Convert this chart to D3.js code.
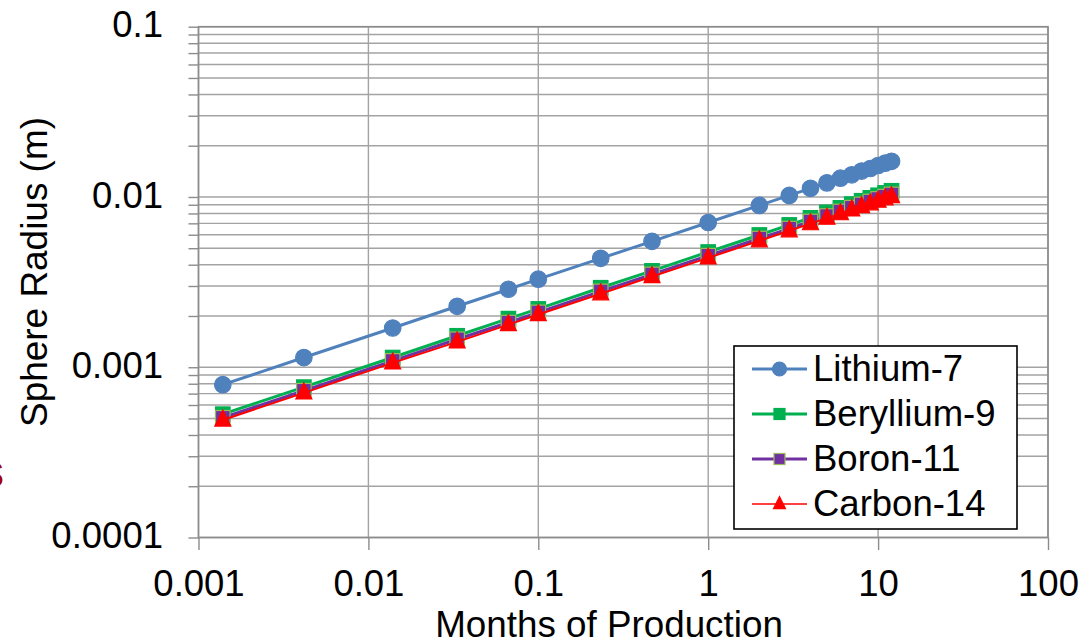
<!DOCTYPE html>
<html>
<head>
<meta charset="utf-8">
<script src="https://cdn.jsdelivr.net/npm/d3@7"></script>
<style>
  html, body { margin: 0; padding: 0; background: #fff; }
  svg { display: block; }
  text { font-family: "Liberation Sans", Arial, sans-serif; fill: #000; }
</style>
</head>
<body>
<svg id="chart" width="1085" height="644"></svg>
<script>
// Production time in months: 1 h, 3 h, 10 h, 1 d, 2 d, 3 d, 1 wk, 2 wk, then 1..12 months
const months = [0.00139, 0.00417, 0.0139, 0.0333, 0.0667, 0.1, 0.233, 0.467,
                1, 2, 3, 4, 5, 6, 7, 8, 9, 10, 11, 12];

// Sphere radius (m) for each isotope
const lithium7 = [0.00079, 0.00114, 0.0017, 0.00228, 0.00287, 0.00329, 0.00436, 0.00549,
                  0.00708, 0.00892, 0.01021, 0.01124, 0.0121, 0.0129, 0.0135, 0.0142,
                  0.0147, 0.0153, 0.0158, 0.0162];
const beryllium9 = [0.00053, 0.000764, 0.00114, 0.00153, 0.00193, 0.0022, 0.00293, 0.00368,
                    0.00475, 0.00598, 0.00685, 0.00754, 0.00812, 0.00863, 0.00908, 0.0095,
                    0.00988, 0.01023, 0.01056, 0.01087];
const boron11 = [0.000505, 0.000728, 0.00109, 0.00146, 0.00183, 0.0021, 0.00279, 0.00351,
                 0.00452, 0.0057, 0.00652, 0.00718, 0.00773, 0.00822, 0.00865, 0.00904,
                 0.0094, 0.00974, 0.01005, 0.01035];
const carbon14 = [0.00049, 0.000707, 0.00106, 0.00141, 0.00178, 0.00204, 0.0027, 0.00341,
                  0.00439, 0.00553, 0.00633, 0.00697, 0.00751, 0.00798, 0.0084, 0.00878,
                  0.00913, 0.00946, 0.00976, 0.01005];

const seriesNames = ["Lithium-7", "Beryllium-9", "Boron-11", "Carbon-14"];
const xTickLabels = ["0.001", "0.01", "0.1", "1", "10", "100"];
const yTickLabels = ["0.0001", "0.001", "0.01", "0.1"];

const series = [
  { name: seriesNames[0], values: lithium7,   line: "#4f81bd", fill: "#4f81bd", stroke: "#4f81bd", shape: "circle",   width: 3 },
  { name: seriesNames[1], values: beryllium9, line: "#00b050", fill: "#00b050", stroke: "#00b050", shape: "square",   width: 3 },
  { name: seriesNames[2], values: boron11,    line: "#7030a0", fill: "#7030a0", stroke: "#9bbb59", shape: "square",   width: 3 },
  { name: seriesNames[3], values: carbon14,   line: "#ff0000", fill: "#ff0000", stroke: "#ff0000", shape: "triangle", width: 2 }
];

const svg = d3.select("#chart");
const plotLeft = 198.5, plotRight = 1048, plotTop = 26.7, plotBottom = 537.5;

const x = d3.scaleLog().domain([0.001, 100]).range([plotLeft, plotRight]);
const y = d3.scaleLog().domain([0.0001, 0.1]).range([plotBottom, plotTop]);

const gridColor = "#a3a3a3";

// Horizontal gridlines at every 1..9 step of each decade
const yGrid = y.ticks();
svg.append("g").selectAll("line").data(yGrid).join("line")
  .attr("x1", plotLeft).attr("x2", plotRight)
  .attr("y1", d => y(d)).attr("y2", d => y(d))
  .attr("stroke", gridColor).attr("stroke-width", 1.4);

// Vertical gridlines at each decade
const xDecades = xTickLabels.map(Number);
svg.append("g").selectAll("line").data(xDecades).join("line")
  .attr("x1", d => x(d)).attr("x2", d => x(d))
  .attr("y1", plotTop).attr("y2", plotBottom)
  .attr("stroke", gridColor).attr("stroke-width", 1.4);

// Plot border
svg.append("rect")
  .attr("x", plotLeft).attr("y", plotTop)
  .attr("width", plotRight - plotLeft).attr("height", plotBottom - plotTop)
  .attr("fill", "none").attr("stroke", "#8c8c8c").attr("stroke-width", 1.6);

// Y axis: ticks at every gridline, labels on decades
const yDecades = yTickLabels.map(Number);
const yAxis = d3.axisLeft(y)
  .tickValues(yGrid)
  .tickSize(10).tickSizeOuter(0).tickPadding(25.5)
  .tickFormat(d => {
    const i = yDecades.findIndex(v => Math.abs(v - d) / v < 1e-6);
    return i >= 0 ? yTickLabels[i] : "";
  });
const gy = svg.append("g").attr("transform", `translate(${plotLeft},0)`).call(yAxis);
gy.select(".domain").remove();
gy.selectAll(".tick line").attr("stroke", "#8c8c8c").attr("stroke-width", 1.4);
gy.selectAll(".tick text").attr("dy", "0.28em")
  .style("font-size", "36.5px").style("font-family", "'Liberation Sans', Arial, sans-serif").attr("fill", "#000");

// X axis: decade ticks and labels
const xAxis = d3.axisBottom(x)
  .tickValues(xDecades)
  .tickSize(12.5).tickSizeOuter(0).tickPadding(20)
  .tickFormat((d, i) => xTickLabels[i]);
const gx = svg.append("g").attr("transform", `translate(0,${plotBottom})`).call(xAxis);
gx.select(".domain").remove();
gx.selectAll(".tick line").attr("stroke", "#8c8c8c").attr("stroke-width", 1.4);
gx.selectAll(".tick text")
  .style("font-size", "36.5px").style("font-family", "'Liberation Sans', Arial, sans-serif").attr("fill", "#000");

// Axis titles
svg.append("text")
  .attr("x", 609).attr("y", 637)
  .attr("text-anchor", "middle")
  .style("font-size", "36.8px")
  .text("Months of Production");

svg.append("text")
  .attr("transform", "translate(47,272) rotate(-90)")
  .attr("text-anchor", "middle")
  .style("font-size", "37px")
  .attr("textLength", 310)
  .attr("lengthAdjust", "spacingAndGlyphs")
  .text("Sphere Radius (m)");

// Edge of a neighbouring caption
svg.append("text")
  .attr("x", 4).attr("y", 487)
  .attr("text-anchor", "end")
  .style("font-size", "46px")
  .style("fill", "#a00000")
  .text("s");

// Marker shapes
function drawMarker(g, shape, size) {
  if (shape === "circle") {
    return g.append("circle").attr("r", size / 2);
  }
  if (shape === "square") {
    return g.append("rect").attr("x", -size / 2).attr("y", -size / 2)
      .attr("width", size).attr("height", size);
  }
  const h = size * 1.0;
  return g.append("path")
    .attr("d", `M0,${-h * 0.62} L${size / 2},${h * 0.38} L${-size / 2},${h * 0.38} Z`);
}

const line = d3.line().x(d => x(d[0])).y(d => y(d[1]));

const plot = svg.append("g");
series.forEach(s => {
  const pts = months.map((m, i) => [m, s.values[i]]);
  const g = plot.append("g");
  g.append("path").datum(pts)
    .attr("d", line)
    .attr("fill", "none")
    .attr("stroke", s.line)
    .attr("stroke-width", s.width)
    .attr("stroke-linejoin", "round");
  const size = s.shape === "circle" ? 16.5 : (s.shape === "square" ? 14.5 : 16);
  pts.forEach(p => {
    const mg = g.append("g").attr("transform", `translate(${x(p[0])},${y(p[1])})`);
    drawMarker(mg, s.shape, size)
      .attr("fill", s.fill)
      .attr("stroke", s.stroke)
      .attr("stroke-width", 1.2);
  });
});

// Legend
const lg = svg.append("g");
lg.append("rect")
  .attr("x", 734).attr("y", 346)
  .attr("width", 283).attr("height", 183)
  .attr("fill", "#fff").attr("stroke", "#000").attr("stroke-width", 1.6);

const rowY = d3.scalePoint().domain(seriesNames).range([369, 504]);
series.forEach(s => {
  const yy = rowY(s.name);
  const row = lg.append("g").attr("transform", `translate(0,${yy})`);
  row.append("line")
    .attr("x1", 752).attr("x2", 807)
    .attr("stroke", s.line).attr("stroke-width", s.width === 3 ? 3 : 1.6);
  const mg = row.append("g").attr("transform", "translate(779.5,0)");
  const size = s.shape === "circle" ? 14 : (s.shape === "square" ? 11 : 12);
  drawMarker(mg, s.shape, size)
    .attr("fill", s.fill).attr("stroke", s.stroke).attr("stroke-width", 1.2);
  row.append("text")
    .attr("x", 813).attr("y", 11.5)
    .style("font-size", "36.5px")
    .text(s.name);
});
</script>
</body>
</html>
